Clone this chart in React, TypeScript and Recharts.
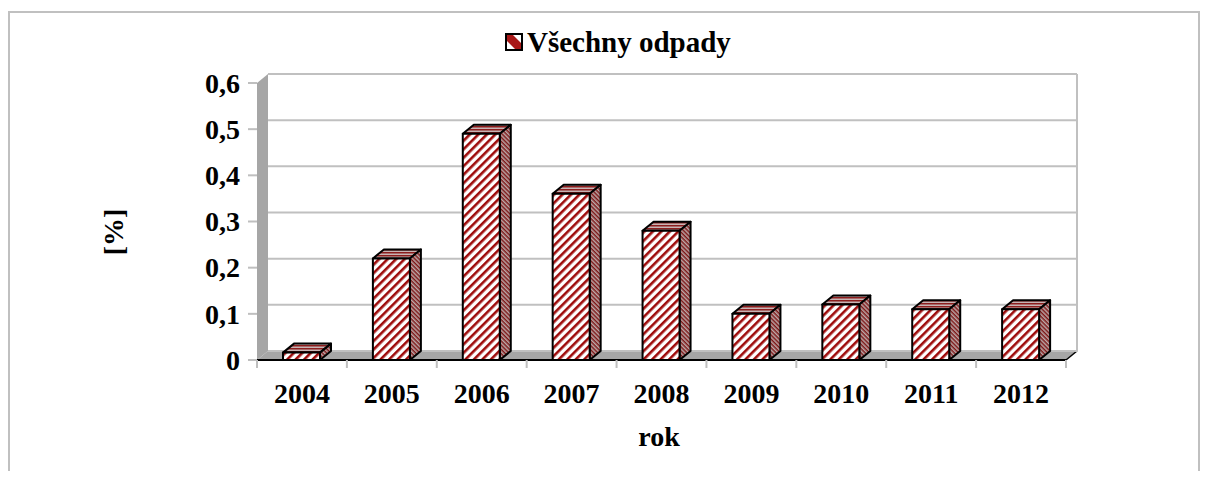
import React from "react";
import { Bar, BarChart, CartesianGrid, Legend, XAxis, YAxis } from "recharts";

const YEARS = ["2004", "2005", "2006", "2007", "2008", "2009", "2010", "2011", "2012"];
const VALUES = [0.016, 0.22, 0.49, 0.36, 0.28, 0.1, 0.12, 0.11, 0.11];
const Y_TICKS = [0, 0.1, 0.2, 0.3, 0.4, 0.5, 0.6];
const SERIES_NAME = "Všechny odpady";
const X_TITLE = "rok";
const Y_TITLE = "[%]";

const data = YEARS.map((year, i) => ({ year, value: VALUES[i] }));

// layout: back wall of the 3d plot
const W = 1212;
const H = 479;
const PL = 268;
const PR = 1077;
const PT = 74;
const PB = 351;
const DX = 11; // depth offset, back -> front
const DY = 9;
const BW = (PR - PL) / YEARS.length;

const FONT = '"Liberation Serif", "Times New Roman", serif';

function Box3D(props: any) {
    const { x, y, width: w, height: h } = props;
    if (h == null || w == null) return null;
    const fx = x - DX;
    const fy = y + DY;
    return (
        <g stroke="#000" strokeWidth={2} strokeLinejoin="round">
            <polygon
                points={`${fx},${fy} ${x},${y} ${x + w},${y} ${fx + w},${fy}`}
                fill="url(#pTop)"
            />
            <polygon
                points={`${fx + w},${fy} ${x + w},${y} ${x + w},${y + h} ${fx + w},${fy + h}`}
                fill="url(#pSide)"
            />
            <rect x={fx} y={fy} width={w} height={h} fill="url(#pFront)" />
        </g>
    );
}

function YTick(props: any) {
    const { y, payload } = props;
    const fy = y + DY;
    return (
        <g>
            <line x1={PL - DX - 9} x2={PL - DX} y1={fy} y2={fy} stroke="#bfbfbf" strokeWidth={2} />
            <text
                x={240}
                y={fy}
                dy="0.35em"
                textAnchor="end"
                fontFamily={FONT}
                fontWeight="bold"
                fontSize={28}
                fill="#000"
            >
                {String(payload.value).replace(".", ",")}
            </text>
        </g>
    );
}

function XTick(props: any) {
    const { x, payload, index } = props;
    const cx = x - DX;
    const bottom = PB + DY;
    return (
        <g>
            <line x1={cx - BW / 2} x2={cx - BW / 2} y1={bottom} y2={bottom + 8} stroke="#bfbfbf" strokeWidth={2} />
            {index === YEARS.length - 1 && (
                <line x1={cx + BW / 2} x2={cx + BW / 2} y1={bottom} y2={bottom + 8} stroke="#bfbfbf" strokeWidth={2} />
            )}
            <text x={cx} y={403} textAnchor="middle" fontFamily={FONT} fontWeight="bold" fontSize={28} fill="#000">
                {payload.value}
            </text>
        </g>
    );
}

function LegendBox(props: any) {
    const item = props.payload?.[0];
    return (
        <svg width={W} height={40} style={{ display: "block" }}>
            <rect x={506} y={14} width={16} height={16} fill="#fff" stroke="#000" strokeWidth={2} />
            <polygon points="507,15 513,15 521,23 521,29 515,29 507,21" fill="#a81818" />
            <text x={527} y={32} fontFamily={FONT} fontWeight="bold" fontSize={29} fill="#000">
                {item ? item.value : SERIES_NAME}
            </text>
        </svg>
    );
}

function Walls() {
    return (
        <svg width={W} height={H} style={{ position: "absolute", left: 0, top: 0 }}>
            <defs>
                <pattern id="pFront" width="6" height="6" patternUnits="userSpaceOnUse" patternTransform="rotate(-45)">
                    <rect width="6" height="6" fill="#fff" />
                    <rect width="6" height="2.6" fill="#9e0b0b" />
                </pattern>
                <pattern id="pSide" width="3" height="3" patternUnits="userSpaceOnUse" patternTransform="rotate(45)">
                    <rect width="3" height="3" fill="#bba8a8" />
                    <rect width="3" height="1.5" fill="#7e1717" />
                </pattern>
                <pattern id="pTop" width="3" height="3" patternUnits="userSpaceOnUse">
                    <rect width="3" height="3" fill="#c6b4b4" />
                    <rect width="3" height="1.5" fill="#8c1d1d" />
                </pattern>
            </defs>
            <rect x={9} y={12} width={1190} height={480} fill="#fff" stroke="#c0c0c0" strokeWidth={2} />
            <polygon
                points={`${PL - DX},${PT + DY} ${PL},${PT} ${PL},${PB} ${PL - DX},${PB + DY}`}
                fill="#a6a6a6"
            />
            <polygon
                points={`${PL - DX},${PB + DY} ${PL},${PB} ${PR},${PB} ${PR - DX},${PB + DY}`}
                fill="#a6a6a6"
            />
            <line x1={PR} x2={PR} y1={PT} y2={PB} stroke="#c0c0c0" strokeWidth={2} />
            <line x1={PL - DX} x2={PR - DX} y1={PB + DY} y2={PB + DY} stroke="#000" strokeWidth={2} />
            <line x1={PR - DX} x2={PR} y1={PB + DY} y2={PB} stroke="#000" strokeWidth={1.5} />
        </svg>
    );
}

const yTitle = () => (
    <text
        x={123}
        y={232}
        transform="rotate(-90 123 232)"
        textAnchor="middle"
        fontFamily={FONT}
        fontWeight="bold"
        fontSize={28}
        fill="#000"
    >
        {Y_TITLE}
    </text>
);

const xTitle = () => (
    <text x={659} y={446} textAnchor="middle" fontFamily={FONT} fontWeight="bold" fontSize={28} fill="#000">
        {X_TITLE}
    </text>
);

export default function App() {
    return (
        <div style={{ position: "relative", width: W, height: H, margin: -8 }}>
            <Walls />
            <div style={{ position: "absolute", left: 0, top: 0 }}>
                <BarChart
                    width={W}
                    height={H}
                    data={data}
                    margin={{ top: PT, right: W - PR, bottom: 0, left: 8 }}
                >
                    <CartesianGrid vertical={false} stroke="#c0c0c0" strokeWidth={2} />
                    <YAxis
                        width={PL - 8}
                        type="number"
                        domain={[0, 0.6]}
                        ticks={Y_TICKS}
                        interval={0}
                        axisLine={false}
                        tickLine={false}
                        tick={<YTick />}
                        label={yTitle}
                    />
                    <XAxis
                        dataKey="year"
                        height={H - PB}
                        interval={0}
                        axisLine={false}
                        tickLine={false}
                        tick={<XTick />}
                        label={xTitle}
                    />
                    <Legend
                        layout="horizontal"
                        verticalAlign="middle"
                        align="center"
                        wrapperStyle={{ top: 20, left: 0, width: W, height: 40 }}
                        content={<LegendBox />}
                    />
                    <Bar
                        dataKey="value"
                        name={SERIES_NAME}
                        barSize={37}
                        shape={<Box3D />}
                        isAnimationActive={false}
                    />
                </BarChart>
            </div>
        </div>
    );
}
